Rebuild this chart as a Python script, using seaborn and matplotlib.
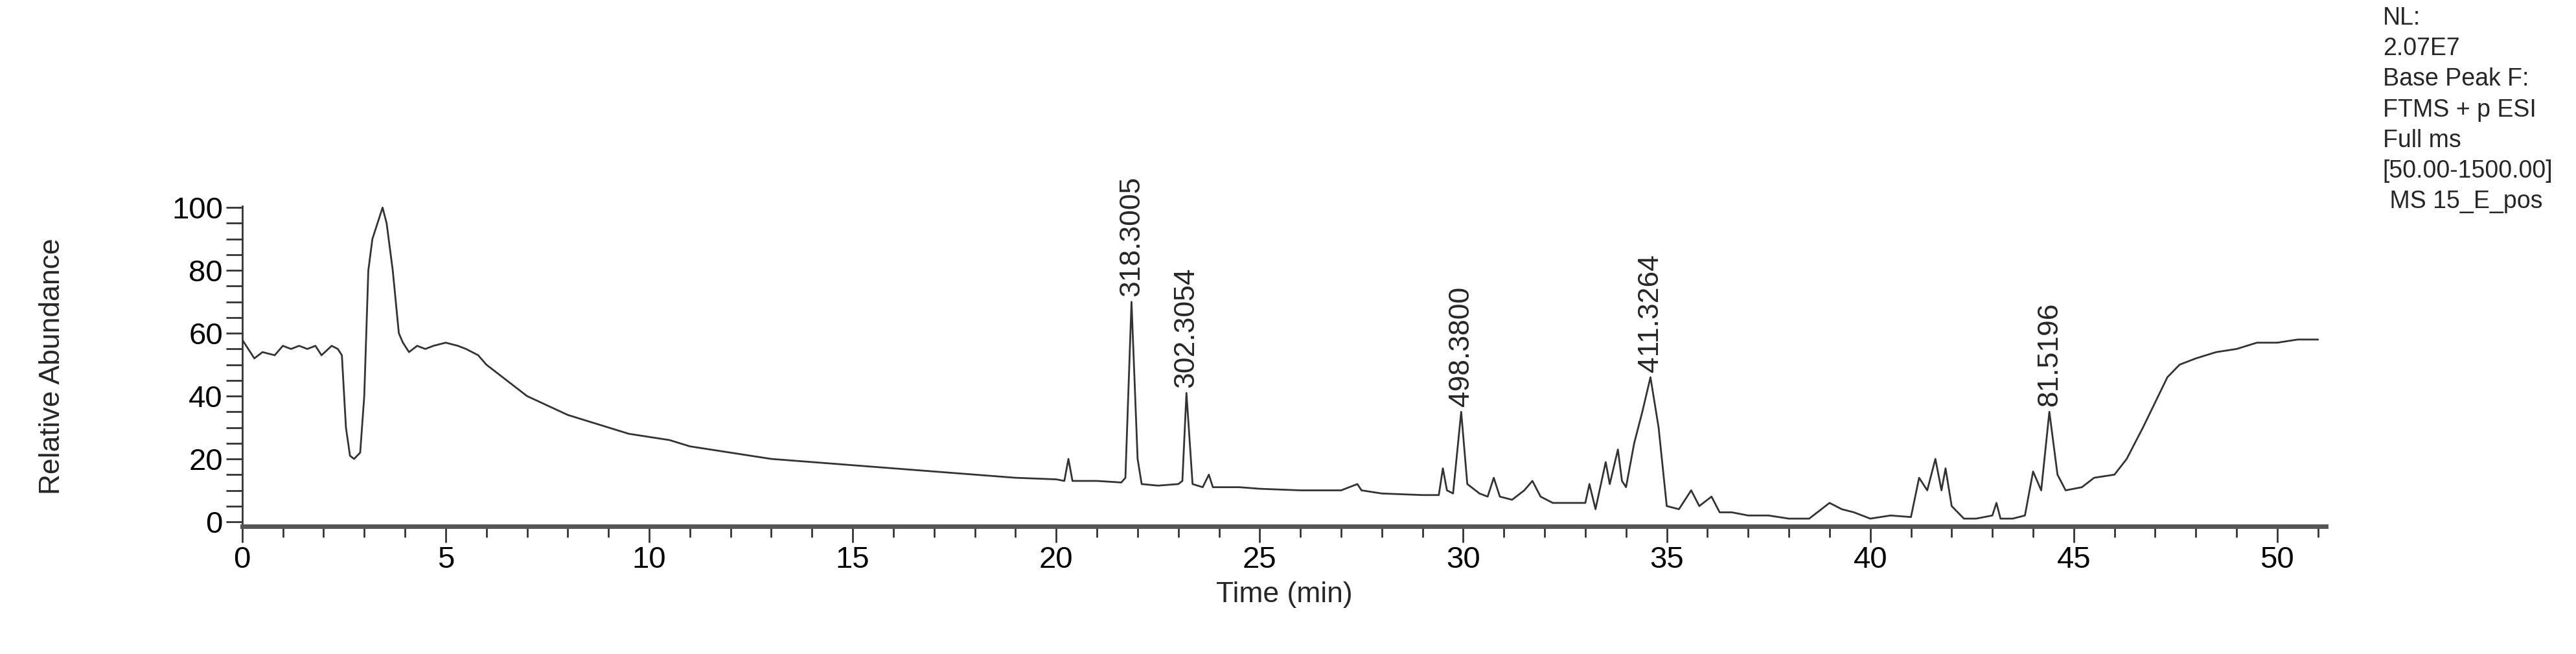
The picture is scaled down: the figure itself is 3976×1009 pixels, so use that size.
import numpy as np
import pandas as pd
import matplotlib
matplotlib.use("Agg")
import matplotlib.pyplot as plt
import seaborn as sns
from matplotlib.ticker import MultipleLocator

sns.set_style("ticks")
plt.rcParams["font.family"] = ["Liberation Sans", "DejaVu Sans"]

# Chromatogram trace (time in min, relative abundance in %)
time_min = [0.0, 0.15, 0.3, 0.5, 0.8, 1.0, 1.2, 1.4, 1.6, 1.8, 1.95, 2.2, 2.35, 2.45, 2.55, 2.65,
            2.75, 2.9, 3.0, 3.1, 3.2, 3.35, 3.45, 3.55, 3.7, 3.85, 3.95, 4.1, 4.3, 4.5, 4.7, 5.0,
            5.3, 5.5, 5.8, 6.0, 6.3, 6.5, 6.8, 7.0, 7.5, 8.0, 8.5, 9.0, 9.5, 10.0, 10.5, 11.0,
            11.5, 12.0, 13.0, 14.0, 15.0, 16.0, 17.0, 18.0, 19.0, 20.0, 20.2, 20.3, 20.4, 21.0,
            21.6, 21.7, 21.85, 22.0, 22.1, 22.5, 23.0, 23.1, 23.2, 23.35, 23.6, 23.75, 23.85, 24.5,
            25.0, 26.0, 27.0, 27.4, 27.5, 28.0, 29.0, 29.4, 29.5, 29.6, 29.75, 29.95, 30.1, 30.4,
            30.6, 30.75, 30.9, 31.2, 31.5, 31.7, 31.9, 32.2, 32.5, 33.0, 33.1, 33.25, 33.5, 33.6,
            33.8, 33.9, 34.0, 34.2, 34.4, 34.6, 34.8, 35.0, 35.3, 35.6, 35.8, 36.1, 36.3, 36.6,
            37.0, 37.5, 38.0, 38.5, 39.0, 39.3, 39.6, 40.0, 40.5, 41.0, 41.2, 41.4, 41.6, 41.75,
            41.85, 42.0, 42.3, 42.6, 43.0, 43.1, 43.2, 43.5, 43.8, 44.0, 44.2, 44.4, 44.6, 44.8,
            45.2, 45.5, 46.0, 46.3, 46.7, 47.0, 47.3, 47.6, 48.0, 48.5, 49.0, 49.5, 50.0, 50.5, 51.0]
abundance = [58, 55, 52, 54, 53, 56, 55, 56, 55, 56, 53, 56, 55, 53, 30, 21,
             20, 22, 40, 80, 90, 96, 100, 95, 80, 60, 57, 54, 56, 55, 56, 57,
             56, 55, 53, 50, 47, 45, 42, 40, 37, 34, 32, 30, 28, 27, 26, 24,
             23, 22, 20, 19, 18, 17, 16, 15, 14, 13.5, 13, 20, 13, 13,
             12.5, 14, 70, 20, 12, 11.5, 12, 13, 41, 12, 11, 15, 11, 11,
             10.5, 10, 10, 12, 10, 9, 8.5, 8.5, 17, 10, 9, 35, 12, 9,
             8, 14, 8, 7, 10, 13, 8, 6, 6, 6, 12, 4, 19, 12,
             23, 13, 11, 25, 35, 46, 30, 5, 4, 10, 5, 8, 3, 3,
             2, 2, 1, 1, 6, 4, 3, 1, 2, 1.5, 14, 10, 20, 10,
             17, 5, 1, 1, 2, 6, 1, 1, 2, 16, 10, 35, 15, 10,
             11, 14, 15, 20, 30, 38, 46, 50, 52, 54, 55, 57, 57, 58, 58]

# Labelled peaks
peak_time = [21.85, 23.2, 29.95, 34.6, 44.4]
peak_height = [70, 41, 35, 46, 35]
peak_label = ["318.3005", "302.3054", "498.3800", "411.3264", "81.5196"]

info_lines = ["NL:", "2.07E7", "Base Peak F:", "FTMS + p ESI", "Full ms",
              "[50.00-1500.00]", " MS 15_E_pos"]

df = pd.DataFrame({"time": time_min, "abundance": abundance})

fig = plt.figure(figsize=(39.76, 10.09), dpi=100)
ax = fig.add_axes([0.094, 0.195, 0.809, 0.49])
sns.lineplot(data=df, x="time", y="abundance", ax=ax, color="#333333", linewidth=2)

ax.set_xlim(0, 51.2)
ax.set_ylim(-1.5, 100.5)
ax.xaxis.set_major_locator(MultipleLocator(5))
ax.xaxis.set_minor_locator(MultipleLocator(1))
ax.yaxis.set_major_locator(MultipleLocator(20))
ax.yaxis.set_minor_locator(MultipleLocator(5))
ax.tick_params(axis="both", which="major", labelsize=34, width=2, length=18, colors="#333333",
               labelcolor="black")
ax.tick_params(axis="x", which="minor", width=2, length=12, colors="#333333")
ax.tick_params(axis="y", which="minor", width=2, length=18, colors="#333333")
ax.set_xlabel("Time (min)", fontsize=32, labelpad=8)
ax.set_ylabel("Relative Abundance", fontsize=32, labelpad=118)
for s in ["top", "right"]:
    ax.spines[s].set_visible(False)
ax.spines["bottom"].set_linewidth(5)
ax.spines["bottom"].set_color("#555555")
ax.spines["left"].set_linewidth(2)
ax.spines["left"].set_color("#333333")

for t, h, lab in zip(peak_time, peak_height, peak_label):
    ax.annotate(lab, (t, h), xytext=(0, 6), textcoords="offset points", rotation=90,
                ha="center", va="bottom", fontsize=32)

fig.text(0.925, 0.99, "\n".join(info_lines), ha="left", va="top", fontsize=27,
         linespacing=1.4)

fig.savefig("out.png", dpi=100)
